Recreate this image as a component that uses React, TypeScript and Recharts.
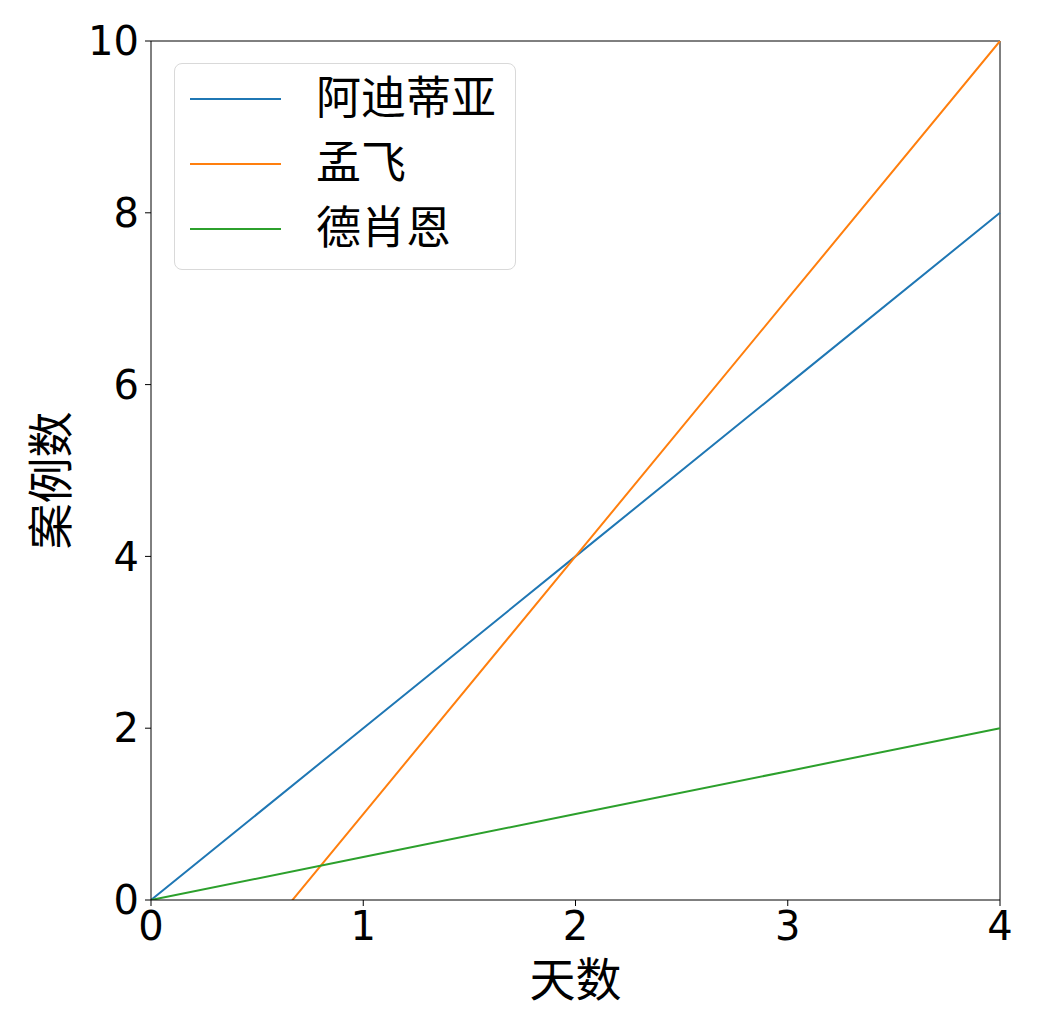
import { LineChart, Line, XAxis, YAxis, ReferenceLine } from 'recharts'

// 天数
const days = [0, 1, 2, 3, 4]
// 各人案例数
const aditya = [0, 2, 4, 6, 8]
const mengfei = [-2, 1, 4, 7, 10]
const deshawn = [0, 0.5, 1, 1.5, 2]

const seriesNames = ['阿迪蒂亚', '孟飞', '德肖恩']
const seriesColors = ['#1f77b4', '#ff7f0e', '#2ca02c']

const xTicks = [0, 1, 2, 3, 4]
const yTicks = [0, 2, 4, 6, 8, 10]

const chartData = days.map((d, i) => ({
  day: d,
  '阿迪蒂亚': aditya[i],
  '孟飞': mengfei[i],
  '德肖恩': deshawn[i],
}))

const font = '"DejaVu Sans", "Noto Sans CJK SC", sans-serif'
const tickStyle = { fontSize: 40, fill: '#000', fontFamily: font }

function LegendBox() {
  return (
    <div
      style={{
        position: 'absolute',
        left: 174,
        top: 63,
        width: 340,
        height: 205,
        border: '1.5px solid #d9d9d9',
        borderRadius: 8,
        background: '#fff',
        fontFamily: font,
      }}
    >
      {seriesNames.map((name, i) => (
        <div key={name} style={{ position: 'absolute', left: 15, top: 10 + i * 65, height: 50, display: 'flex', alignItems: 'center' }}>
          <div style={{ width: 91, height: 2, background: seriesColors[i] }} />
          <span style={{ marginLeft: 35, fontSize: 45, color: '#000', lineHeight: '50px', whiteSpace: 'nowrap' }}>{name}</span>
        </div>
      ))}
    </div>
  )
}

export default function App() {
  return (
    <div style={{ position: 'absolute', left: 0, top: 0, width: 1045, height: 1024, background: '#fff' }}>
      <LineChart width={1045} height={1024} data={chartData} margin={{ top: 41, right: 45, left: 0, bottom: 0 }}>
        <XAxis
          dataKey="day"
          type="number"
          domain={[0, 4]}
          ticks={xTicks}
          tick={tickStyle}
          tickSize={6}
          tickMargin={6}
          stroke="#000"
          height={124}
          label={{
            content: ({ viewBox }: any) => (
              <text x={viewBox.x + viewBox.width / 2} y={996} textAnchor="middle" fontSize={46} fontFamily={font} fill="#000">
                天数
              </text>
            ),
          }}
        />
        <YAxis
          type="number"
          domain={[0, 10]}
          allowDataOverflow
          ticks={yTicks}
          tick={tickStyle}
          tickSize={6}
          tickMargin={6}
          stroke="#000"
          width={151}
          label={{
            content: ({ viewBox }: any) => (
              <text
                x={0}
                y={0}
                transform={`translate(67, ${viewBox.y + viewBox.height / 2 + 10}) rotate(-90)`}
                textAnchor="middle"
                fontSize={46}
                fontFamily={font}
                fill="#000"
              >
                案例数
              </text>
            ),
          }}
        />
        <ReferenceLine y={10} stroke="#000" ifOverflow="visible" />
        <ReferenceLine x={4} stroke="#000" ifOverflow="visible" />
        {seriesNames.map((name, i) => (
          <Line
            key={name}
            type="linear"
            dataKey={name}
            stroke={seriesColors[i]}
            strokeWidth={2}
            dot={false}
            isAnimationActive={false}
          />
        ))}
      </LineChart>
      <LegendBox />
    </div>
  )
}
